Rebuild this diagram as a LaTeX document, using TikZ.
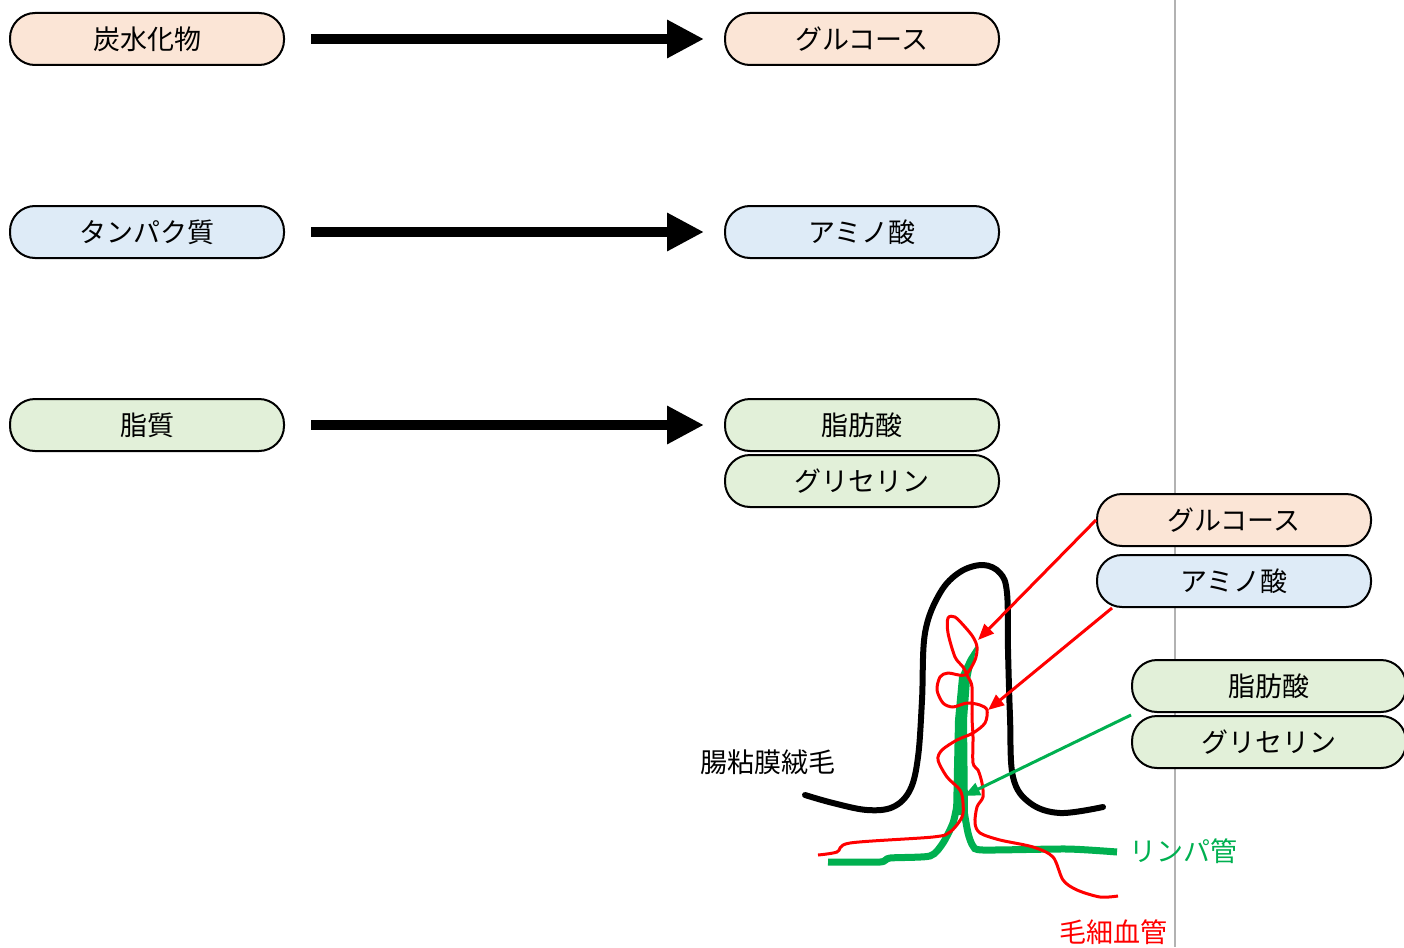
\documentclass[tikz,border=0pt]{standalone}
\usepackage{fontspec}
\setmainfont{Noto Sans CJK JP}
\usetikzlibrary{arrows.meta,positioning}

\definecolor{carbfill}{HTML}{FBE5D6}
\definecolor{protfill}{HTML}{DEEBF7}
\definecolor{fatfill}{HTML}{E2F0D9}
\definecolor{lymphgreen}{HTML}{00B050}
\definecolor{bloodred}{HTML}{FF0000}

\begin{document}
\begin{tikzpicture}[x=1pt, y=-1pt,
    every node/.style={font=\fontsize{27}{30}\selectfont, text=black},
    nutrient/.style={draw, line width=2pt, rounded corners=25pt, minimum width=274pt, minimum height=52pt, inner sep=0pt},
    digest/.style={line width=10pt, -{Triangle[length=37pt, width=36pt]}},
    absorb/.style={line width=3pt, -{Triangle[length=16pt, width=13pt]}},
    ]
    \useasboundingbox (0,0) rectangle (1404,947);

    % page break line
    \draw[gray!60, line width=1.3pt] (1175,0) -- (1175,947);

    % nutrients and what they break down into
    \node[nutrient, fill=carbfill] (carb) at (147,39) {炭水化物};
    \node[nutrient, fill=carbfill] (glu) at (862,39) {グルコース};
    \node[nutrient, fill=protfill] (prot) at (147,232) {タンパク質};
    \node[nutrient, fill=protfill] (amino) at (862,232) {アミノ酸};
    \node[nutrient, fill=fatfill] (lipid) at (147,425) {脂質};
    \node[nutrient, fill=fatfill] (fatty) at (862,425) {脂肪酸};
    \node[nutrient, fill=fatfill] (glyc) at (862,481) {グリセリン};

    \draw[digest] ([xshift=26pt]carb.east) -- ([xshift=-20pt]glu.west);
    \draw[digest] ([xshift=26pt]prot.east) -- ([xshift=-20pt]amino.west);
    \draw[digest] ([xshift=26pt]lipid.east) -- ([xshift=-20pt]fatty.west);

    % villus
    \draw[line width=6pt, line cap=round] plot[smooth, tension=0.6] coordinates {
      (805,795) (833,803) (867,810) (893,807) (910,790) (918,757) (922,700)
      (925,633) (940,593) (960,572) (983,565) (1000,573) (1007,593) (1008,650)
      (1010,717) (1013,777) (1030,803) (1060,813) (1103,807)};

    % lymph vessel
    \draw[lymphgreen, line width=7pt] plot[smooth, tension=0.4] coordinates {
      (828,862) (880,862) (890,858) (930,856) (943,843) (953,823) (957,805)};
    \draw[lymphgreen, line width=7pt] plot[smooth, tension=0.4] coordinates {
      (963,805) (968,833) (973,846) (983,850) (1067,849) (1117,852)};
    \fill[lymphgreen] (953,815) -- (955,720) -- (959,677) -- (968,658) -- (977,644)
      -- (970,680) -- (967,720) -- (968,815) -- cycle;

    % blood capillary
    \draw[bloodred, line width=3pt, line join=round] plot[smooth, tension=0.5] coordinates {
      (818,855) (837,852) (850,843) (933,837) (950,832) (962,817) (963,803)
      (960,790) (947,777) (938,760) (942,750) (957,740) (973,733) (985,723)
      (987,710) (980,705) (967,703) (953,707) (943,703) (937,690) (940,677)
      (948,673) (965,675) (975,660) (977,647) (973,637) (965,627) (955,617)
      (948,618) (948,633) (955,657) (963,667) (968,677) (972,687) (972,717)
      (973,737) (973,763) (978,770) (982,783) (983,797) (977,807) (975,823)
      (980,833) (1000,840) (1033,847) (1053,857) (1063,880) (1077,890)
      (1100,897) (1118,896)};

    % absorbed nutrients
    \node[nutrient, fill=carbfill] (glu2) at (1234,520) {グルコース};
    \node[nutrient, fill=protfill] (amino2) at (1234,581) {アミノ酸};
    \node[nutrient, fill=fatfill] (fatty2) at (1269,686) {脂肪酸};
    \node[nutrient, fill=fatfill] (glyc2) at (1269,742) {グリセリン};

    \coordinate (gluend) at (978,640);
    \coordinate (aminoend) at (988,710);
    \coordinate (fatend) at (964,796);
    \draw[absorb, bloodred] (glu2.west) -- (gluend);
    \draw[absorb, bloodred] ([xshift=16pt]amino2.south west) -- (aminoend);
    \draw[absorb, lymphgreen] (glyc2.north west) -- (fatend);

    % labels
    \node (villus) at (768,763) {腸粘膜絨毛};
    \node[text=lymphgreen] (lymph) at (1183,851) {リンパ管};
    \node[text=bloodred] (capil) at (1113,932) {毛細血管};
\end{tikzpicture}
\end{document}
